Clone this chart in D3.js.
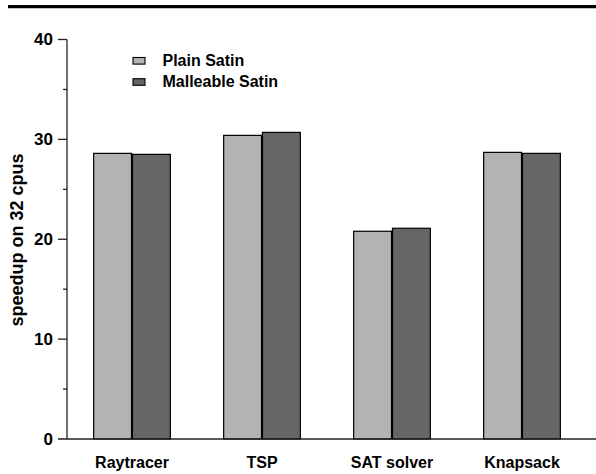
<!DOCTYPE html>
<html>
<head>
<meta charset="utf-8">
<script src="https://cdn.jsdelivr.net/npm/d3@7"></script>
<style>
  html, body { margin: 0; padding: 0; background: #fff; }
  svg { display: block; }
  text { font-family: "Liberation Sans", Arial, Helvetica, sans-serif; font-weight: bold; fill: #000; }
</style>
</head>
<body>
<svg id="chart" width="596" height="474"></svg>
<script>
const categories = ["Raytracer", "TSP", "SAT solver", "Knapsack"];
const seriesNames = ["Plain Satin", "Malleable Satin"];
const plainSatin = [28.6, 30.4, 20.8, 28.7];
const malleableSatin = [28.5, 30.7, 21.1, 28.6];
const majorTicks = [0, 10, 20, 30, 40];
const minorTicks = [5, 15, 25, 35];
const colors = ["#b3b3b3", "#666666"];
const yLabel = "speedup on 32 cpus";

const svg = d3.select("#chart");

// top rule
svg.append("line").attr("x1", 8).attr("x2", 596).attr("y1", 6.6).attr("y2", 6.6)
  .attr("stroke", "#000").attr("stroke-width", 3.3);

const y = d3.scaleLinear().domain([0, 40]).range([439, 39.5]);
const x0 = d3.scaleBand().domain(categories).range([67, 587]).paddingInner(0.41).paddingOuter(0.205);
const x1 = d3.scaleBand().domain(seriesNames).range([0, x0.bandwidth()]).paddingInner(0.025);

const data = categories.map((c, i) => ({cat: c, values: [plainSatin[i], malleableSatin[i]]}));

// bars
const g = svg.append("g");
data.forEach(d => {
  d.values.forEach((v, j) => {
    g.append("rect")
      .attr("x", x0(d.cat) + x1(seriesNames[j]))
      .attr("y", y(v))
      .attr("width", x1.bandwidth())
      .attr("height", y(0) - y(v))
      .attr("fill", colors[j])
      .attr("stroke", "#000")
      .attr("stroke-width", 1.2);
  });
});

// y axis
const axisColor = "#222";
svg.append("line").attr("x1", 67).attr("x2", 67).attr("y1", y(40)).attr("y2", y(0))
  .attr("stroke", axisColor).attr("stroke-width", 1.3);
majorTicks.forEach(t => {
  if (t !== 0) {
    svg.append("line").attr("x1", 58).attr("x2", 67).attr("y1", y(t)).attr("y2", y(t))
      .attr("stroke", axisColor).attr("stroke-width", 1.3);
  }
  svg.append("text").attr("x", 53).attr("y", y(t)).attr("dy", "0.35em")
    .attr("text-anchor", "end").style("font-size", "17px").text(t);
});
minorTicks.forEach(t => {
  svg.append("line").attr("x1", 63).attr("x2", 67).attr("y1", y(t)).attr("y2", y(t))
    .attr("stroke", axisColor).attr("stroke-width", 1.3);
});

// x axis baseline
svg.append("line").attr("x1", 58).attr("x2", 596).attr("y1", y(0)).attr("y2", y(0))
  .attr("stroke", axisColor).attr("stroke-width", 1.3);

// x labels
categories.forEach(c => {
  svg.append("text").attr("x", x0(c) + x0.bandwidth() / 2).attr("y", 468)
    .attr("text-anchor", "middle").style("font-size", "16px").text(c);
});

// y label
svg.append("text").attr("transform", "translate(23,240) rotate(-90)")
  .attr("text-anchor", "middle").style("font-size", "18px").text(yLabel);

// legend
const legendY = [57.5, 78.7];
const textY = [66, 86.6];
seriesNames.forEach((s, j) => {
  svg.append("rect").attr("x", 133).attr("y", legendY[j]).attr("width", 12).attr("height", 6.6)
    .attr("fill", colors[j]).attr("stroke", "#000").attr("stroke-width", 1.1);
  svg.append("text").attr("x", 162.5).attr("y", textY[j]).style("font-size", "16px").text(s);
});
</script>
</body>
</html>
